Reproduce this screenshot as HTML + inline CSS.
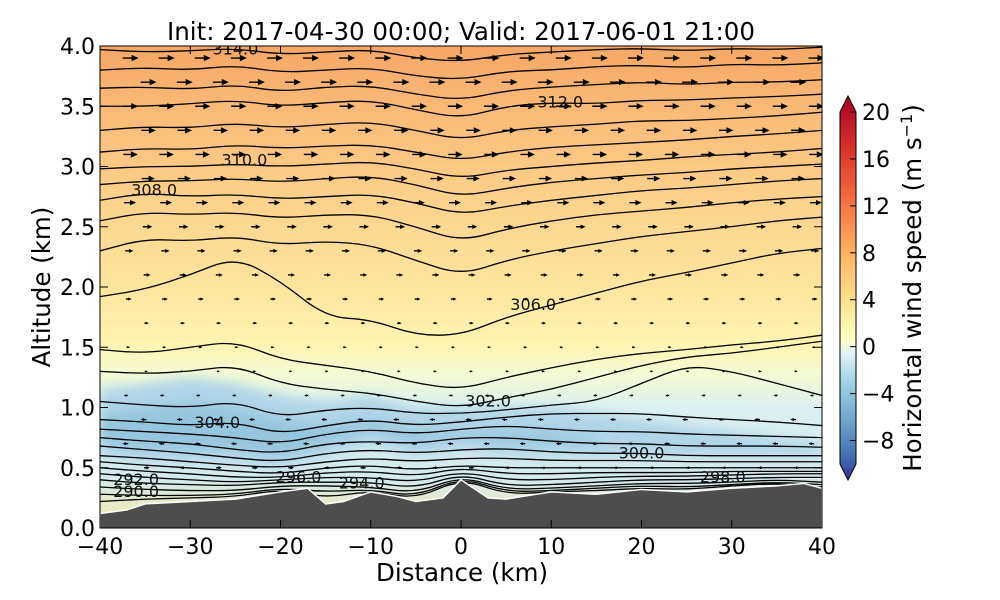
<!DOCTYPE html>
<html><head><meta charset="utf-8">
<style>
body{margin:0;background:#fff;}
svg{display:block;font-family:"DejaVu Sans","Liberation Sans",sans-serif;}
</style></head>
<body>
<svg id="chart" width="1000" height="600" viewBox="0 0 1000 600">
<defs>
<linearGradient id="bg" x1="0" y1="0" x2="0" y2="1">
<stop offset="0" stop-color="#f6a767"/>
<stop offset="0.12" stop-color="#f9b876"/>
<stop offset="0.3" stop-color="#fcd08a"/>
<stop offset="0.5" stop-color="#fee59e"/>
<stop offset="0.62" stop-color="#fff4b2"/>
<stop offset="0.68" stop-color="#f5fbd2"/>
<stop offset="0.75" stop-color="#dcf0f0"/>
<stop offset="0.9" stop-color="#d3eaee"/>
<stop offset="1" stop-color="#fde9a0"/>
</linearGradient>
<linearGradient id="cb" x1="0" y1="1" x2="0" y2="0">
<stop offset="0" stop-color="#313695"/>
<stop offset="0.07" stop-color="#4575b4"/>
<stop offset="0.17" stop-color="#74add1"/>
<stop offset="0.27" stop-color="#abd9e9"/>
<stop offset="0.33" stop-color="#e0f3f8"/>
<stop offset="0.37" stop-color="#ffffbf"/>
<stop offset="0.47" stop-color="#fee090"/>
<stop offset="0.6" stop-color="#fdae61"/>
<stop offset="0.73" stop-color="#f46d43"/>
<stop offset="0.87" stop-color="#d73027"/>
<stop offset="1" stop-color="#a50026"/>
</linearGradient>
<filter id="blur"><feGaussianBlur stdDeviation="6"/></filter>
<clipPath id="plotclip"><rect x="100" y="46" width="722" height="482"/></clipPath>
</defs>
<text x="461" y="40" text-anchor="middle" font-size="24.5">Init: 2017-04-30 00:00; Valid: 2017-06-01 21:00</text>
<g id="plot" clip-path="url(#plotclip)">
<rect x="100" y="46" width="722" height="482" fill="url(#bg)"/>
<g id="blobs" filter="url(#blur)"></g>
<g id="contours"></g>
<g id="arrows"></g>
<g id="terrain"></g>
</g>
<rect x="100" y="46" width="722" height="482" fill="none" stroke="#000" stroke-width="1"/>
<g id="axes"></g>
<text x="462" y="581" text-anchor="middle" font-size="24.5">Distance (km)</text>
<text transform="translate(50,287) rotate(-90)" text-anchor="middle" font-size="24.5">Altitude (km)</text>
<g id="colorbar">
<polygon points="840,112 848,96 856,112 856,464 848,480 840,464" fill="url(#cb)" stroke="#000" stroke-width="1"/>
</g>
<text transform="translate(921,288) rotate(-90)" text-anchor="middle" font-size="24.5">Horizontal wind speed (m s<tspan baseline-shift="super" font-size="16">−1</tspan>)</text>
</svg>
<script>
const NS='http://www.w3.org/2000/svg';
const xGrid=[-40,-35,-30,-25,-20,-15,-10,-5,0,5,10,15,20,25,30,35,40];
const terrainX=[-40,-37,-35,-30,-25,-20,-17,-15,-13,-10,-7,-5,-2,0,2,3,5,10,15,20,25,30,35,38,40];
const terrainH=[0.12,0.15,0.2,0.22,0.24,0.3,0.33,0.2,0.22,0.3,0.26,0.22,0.25,0.4,0.3,0.25,0.24,0.3,0.28,0.32,0.3,0.33,0.35,0.37,0.33];
const contourLevels=[314,313.5,313,312,311.5,311,310,309.5,308,307.5,307,306,305.5,305,304.5,304,303,302,301,300,299,298,297,296,294,292,290];
const contourAlt=[
[3.97,3.95,3.96,3.98,3.93,3.95,3.97,3.9,3.87,3.93,3.95,3.97,3.98,3.96,3.98,3.97,3.99],
[3.8,3.82,3.8,3.84,3.78,3.8,3.82,3.75,3.72,3.79,3.8,3.83,3.84,3.82,3.85,3.84,3.86],
[3.65,3.66,3.64,3.68,3.62,3.66,3.67,3.6,3.55,3.63,3.66,3.68,3.7,3.68,3.7,3.7,3.72],
[3.5,3.5,3.52,3.55,3.5,3.53,3.55,3.47,3.4,3.5,3.53,3.52,3.55,3.55,3.57,3.58,3.6],
[3.3,3.33,3.32,3.36,3.32,3.35,3.37,3.3,3.22,3.3,3.33,3.35,3.38,3.38,3.4,3.42,3.45],
[3.12,3.15,3.14,3.18,3.15,3.17,3.18,3.12,3.05,3.12,3.16,3.18,3.2,3.22,3.25,3.27,3.3],
[2.98,3.0,3.0,3.02,3.0,3.02,3.04,2.98,2.9,2.97,3.0,3.03,3.05,3.08,3.1,3.12,3.15],
[2.85,2.88,2.88,2.9,2.87,2.9,2.92,2.85,2.75,2.82,2.87,2.9,2.93,2.95,2.98,3.0,3.02],
[2.72,2.78,2.75,2.77,2.73,2.75,2.77,2.7,2.6,2.67,2.72,2.76,2.8,2.82,2.85,2.88,2.9],
[2.55,2.62,2.6,2.62,2.57,2.6,2.6,2.5,2.38,2.48,2.55,2.6,2.63,2.66,2.7,2.73,2.75],
[2.3,2.4,2.38,2.42,2.35,2.38,2.35,2.22,2.1,2.22,2.3,2.36,2.42,2.46,2.5,2.55,2.58],
[1.92,1.98,2.1,2.25,2.05,1.75,1.73,1.6,1.6,1.75,1.85,1.95,2.05,2.12,2.2,2.28,2.32],
[1.48,1.45,1.5,1.55,1.4,1.35,1.3,1.2,1.15,1.25,1.33,1.4,1.45,1.48,1.52,1.55,1.6],
[1.3,1.28,1.3,1.35,1.2,1.15,1.12,1.05,1.0,1.08,1.15,1.25,1.35,1.42,1.45,1.5,1.55],
[1.05,1.02,1.0,1.05,0.92,0.98,1.0,0.95,0.95,0.98,1.02,1.05,1.2,1.35,1.3,1.2,1.1],
[0.9,0.88,0.85,0.88,0.78,0.85,0.9,0.85,0.88,0.92,0.95,0.95,0.95,0.92,0.9,0.88,0.85],
[0.82,0.8,0.78,0.75,0.7,0.78,0.82,0.78,0.82,0.85,0.82,0.8,0.8,0.78,0.77,0.76,0.75],
[0.75,0.72,0.7,0.65,0.62,0.7,0.72,0.7,0.75,0.75,0.72,0.7,0.7,0.68,0.68,0.68,0.67],
[0.68,0.65,0.62,0.58,0.55,0.62,0.65,0.62,0.65,0.66,0.63,0.62,0.62,0.6,0.6,0.6,0.6],
[0.6,0.58,0.55,0.52,0.5,0.55,0.58,0.55,0.58,0.58,0.56,0.56,0.56,0.55,0.55,0.55,0.55],
[0.55,0.52,0.5,0.47,0.45,0.5,0.52,0.48,0.52,0.5,0.5,0.5,0.5,0.5,0.5,0.5,0.5],
[0.5,0.47,0.45,0.42,0.42,0.46,0.47,0.43,0.5,0.45,0.45,0.46,0.46,0.46,0.47,0.47,0.47],
[0.45,0.42,0.4,0.38,0.4,0.42,0.42,0.38,0.47,0.4,0.4,0.42,0.43,0.43,0.44,0.45,0.45],
[0.4,0.37,0.36,0.35,0.38,0.38,0.38,0.33,0.45,0.35,0.36,0.38,0.4,0.4,0.41,0.42,0.42],
[0.34,0.32,0.31,0.31,0.35,0.35,0.34,0.29,0.43,0.32,0.33,0.35,0.37,0.37,0.38,0.4,0.38],
[0.28,0.27,0.27,0.28,0.33,0.3,0.32,0.26,0.42,0.3,0.31,0.33,0.35,0.34,0.36,0.38,0.36],
[0.22,0.24,0.25,0.26,0.32,0.25,0.31,0.24,0.41,0.28,0.3,0.31,0.33,0.32,0.35,0.37,0.34]];
const labelLevels=[314.0,312.0,310.0,308.0,306.0,304.0,302.0,300.0,298.0,296.0,294.0,292.0,290.0];
const labelX=[-25,11,-24,-34,8,-27,3,20,29,-18,-11,-36,-36];
const labelAlt=[3.97,3.53,3.05,2.8,1.85,0.87,1.05,0.62,0.42,0.42,0.37,0.4,0.3];
const blueX=[-40,-35,-30,-25,-20,-15,-10,-5,0,5,10,15,20,25,30,35,40];
const blueTop=[1.15,1.2,1.25,1.2,1.1,1.05,1.1,1.0,1.0,1.0,1.0,0.95,0.9,0.85,0.8,0.75,0.7];
const blueBot=[0.6,0.55,0.55,0.55,0.5,0.6,0.7,0.6,0.65,0.6,0.6,0.6,0.6,0.6,0.6,0.6,0.6];
const arrowRowAlt=[3.9,3.7,3.5,3.3,3.1,2.9,2.7,2.5,2.3,2.1,1.9,1.7,1.5,1.3,1.1,0.9,0.7,0.5];
const arrowRowSpeed=[6,6,5.5,5,5,4.5,4,3,2.5,2,1.5,1,0.6,0.5,-0.8,-1.5,-1.5,1.5];
const arrowCols=[-37,-33,-29,-25,-21,-17,-13,-9,-5,-1,3,7,11,15,19,23,27,31,35,39];

const X=v=>100+(v+40)/80*722, Y=a=>528-a*120.5;
const CBY=v=>464-(v+10)/30*352;
function el(tag,attrs,parent){const e=document.createElementNS(NS,tag);for(const k in attrs)e.setAttribute(k,attrs[k]);parent.appendChild(e);return e;}
function smooth(pts){let d='M'+pts[0][0]+','+pts[0][1];for(let i=1;i<pts.length;i++){const p0=pts[i-1],p1=pts[i];const mx=(p0[0]+p1[0])/2;d+=' Q'+p0[0]+','+p0[1]+' '+mx+','+(p0[1]+p1[1])/2;}d+=' L'+pts[pts.length-1][0]+','+pts[pts.length-1][1];return d;}

const blobs=document.getElementById('blobs');
let bp=blueX.map((x,i)=>X(x)+','+Y(blueTop[i])).concat(blueX.slice().reverse().map((x,i)=>X(x)+','+Y(blueBot[blueBot.length-1-i])));
const bb=el('polygon',{points:bp.join(' '),fill:'#afd6e7'},blobs);


const bb2=el('polygon',{points:blueX.slice(0,12).map((x,i)=>X(x)+','+Y(blueTop[i]-0.2)).concat(blueX.slice(0,12).reverse().map((x,i)=>X(x)+','+Y(blueBot[11-i]+0.1))).join(' '),fill:'#94c6df'},blobs);



const cg=document.getElementById('contours');
contourAlt.forEach((row,i)=>{
  const p=el('path',{d:smooth(row.map((a,j)=>[X(xGrid[j]),Y(a)])),fill:'none',stroke:'#000','stroke-width':1.3},cg);
  
  
});
labelLevels.forEach((lv,i)=>{
  const t=el('text',{x:X(labelX[i]),y:Y(labelAlt[i])+5,'text-anchor':'middle','font-size':16,fill:'#111'},cg);
  t.textContent=lv.toFixed(1);
  
  
});

const ag=document.getElementById('arrows');
arrowRowAlt.forEach((a,r)=>{
  const s=arrowRowSpeed[r];
  arrowCols.forEach((c,k)=>{
    const len=Math.abs(s)*1.5, dir=s>=0?1:-1;
    const hs=Math.min(7,2+Math.abs(s));
    const x0=X(c+(r%2)*2), y0=Y(a);
    const ar=el('polygon',{points:`${x0-dir*len/2},${y0-0.7} ${x0+dir*len/2},${y0-0.7} ${x0+dir*len/2},${y0-hs*0.45} ${x0+dir*(len/2+hs)},${y0} ${x0+dir*len/2},${y0+hs*0.45} ${x0+dir*len/2},${y0+0.7} ${x0-dir*len/2},${y0+0.7}`,fill:'#000'},ag);
    
    
  });
});

const tg=document.getElementById('terrain');
const tp=terrainX.map((x,i)=>X(x)+','+Y(terrainH[i])).concat([X(40)+','+530,X(-40)+','+530]);
const tpoly=el('polygon',{points:tp.join(' '),fill:'#4d4d4d',stroke:'#fff','stroke-width':1.5},tg);



const xTicks=[-40,-30,-20,-10,0,10,20,30,40];
const yTicks=[0,0.5,1,1.5,2,2.5,3,3.5,4];
const cbTicks=[20,16,12,8,4,0,-4,-8];
const ax=document.getElementById('axes');
xTicks.forEach(v=>{
  const l=el('line',{x1:X(v),x2:X(v),y1:528,y2:520,stroke:'#000'},ax);
  
  const l2=el('line',{x1:X(v),x2:X(v),y1:46,y2:54,stroke:'#000'},ax);
  
  const t=el('text',{x:X(v),y:554,'text-anchor':'middle','font-size':22},ax);
  t.textContent=v<0?'−'+(-v):String(v);
  
});
yTicks.forEach(v=>{
  const l=el('line',{x1:100,x2:108,y1:Y(v),y2:Y(v),stroke:'#000'},ax);
  
  const l2=el('line',{x1:814,x2:822,y1:Y(v),y2:Y(v),stroke:'#000'},ax);
  
  const t=el('text',{x:95,y:Y(v)+8,'text-anchor':'end','font-size':22},ax);
  t.textContent=v.toFixed(1);
  
});
const cbg=document.getElementById('colorbar');
cbTicks.forEach(v=>{
  const l=el('line',{x1:850,x2:856,y1:CBY(v),y2:CBY(v),stroke:'#000'},cbg);
  
  const t=el('text',{x:862,y:CBY(v)+8,'font-size':22},cbg);
  t.textContent=v<0?'−'+(-v):String(v);
  
});
</script>
</body></html>
